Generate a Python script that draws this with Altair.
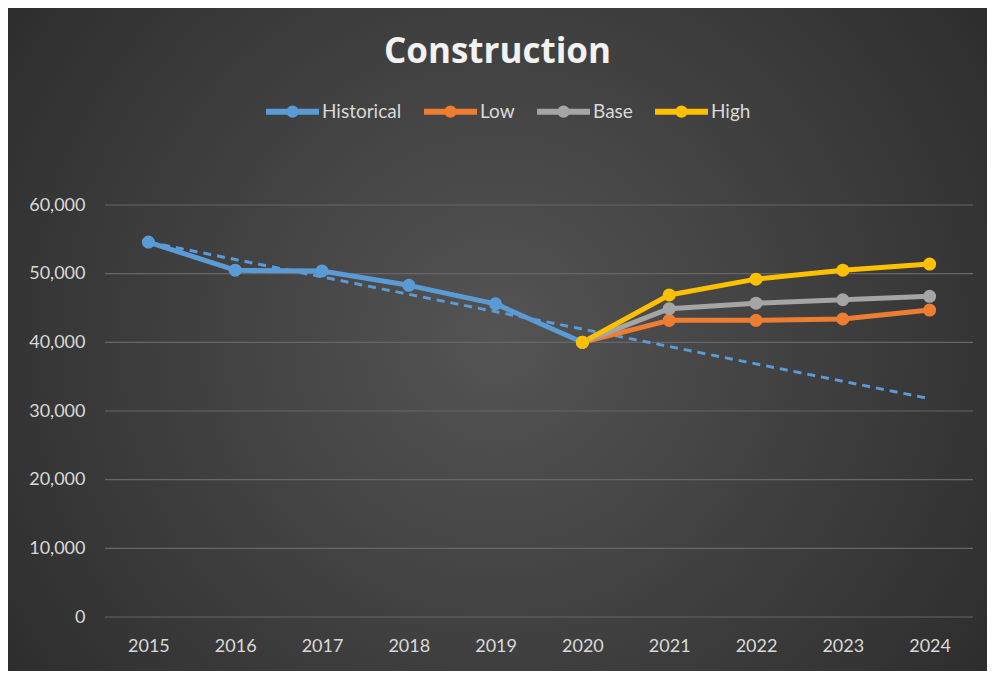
import altair as alt
import pandas as pd

years = ["2015", "2016", "2017", "2018", "2019", "2020", "2021", "2022", "2023", "2024"]
hist_years = ["2015", "2016", "2017", "2018", "2019", "2020"]
historical = [54600, 50500, 50400, 48300, 45600, 40000]
scen_years = ["2020", "2021", "2022", "2023", "2024"]
low = [40000, 43200, 43200, 43400, 44700]
base = [40000, 44900, 45700, 46200, 46700]
high = [40000, 46900, 49200, 50500, 51400]
trend_years = ["2015", "2024"]
trend_vals = [54600, 31800]
y_ticks = [0, 10000, 20000, 30000, 40000, 50000, 60000]

series_names = ["Historical", "Low", "Base", "High"]
series_colors = ["#5b9bd5", "#ed7d31", "#a5a5a5", "#ffc000"]

rows = []
for y, v in zip(hist_years, historical):
    rows.append({"year": y, "value": v, "series": "Historical", "o": 0})
for name, vals, o in [("Low", low, 1), ("Base", base, 2), ("High", high, 3)]:
    for y, v in zip(scen_years, vals):
        rows.append({"year": y, "value": v, "series": name, "o": o})
df = pd.DataFrame(rows)
trend_df = pd.DataFrame({"year": trend_years, "value": trend_vals})
grid_df = pd.DataFrame({"value": y_ticks})

FONT = "Lato"
TXT = "#d9d9d9"

xscale = alt.Scale(type="point", domain=years, padding=0.5)
yscale = alt.Scale(domain=[0, 60000], nice=False)

x_axis = alt.Axis(title=None, labelAngle=0, labelAlign="center",
                  ticks=False, domain=False, grid=False, labelPadding=20, zindex=1,
                  labelFont=FONT, labelFontSize=18, labelColor=TXT)
y_axis = alt.Axis(title=None, values=y_ticks, format=",.0f", ticks=False, domain=False,
                  grid=False, labelPadding=20, zindex=1,
                  labelFont=FONT, labelFontSize=18, labelColor=TXT)

X = alt.X("year:O", scale=xscale, axis=x_axis)
Y = alt.Y("value:Q", scale=yscale, axis=y_axis)

bg = alt.Chart(pd.DataFrame({"a": [1]})).mark_rect(
    fill=alt.Gradient(
        gradient="radial",
        stops=[alt.GradientStop(color="#545454", offset=0),
               alt.GradientStop(color="#262626", offset=1)],
        x1=0.5, y1=0.5, r1=0, x2=0.5, y2=0.5, r2=0.72,
    ),
    clip=False,
).encode(
    x=alt.value(-97), x2=alt.value(882),
    y=alt.value(-197), y2=alt.value(466),
)

grid = alt.Chart(grid_df).mark_rule(color="#676767", strokeWidth=1.2).encode(
    y=Y,
    x=alt.value(0), x2=alt.value(868),
)

trend = alt.Chart(trend_df).mark_line(
    color="#5b9bd5", strokeWidth=3, strokeDash=[8, 6]
).encode(x=X, y=Y)

legend_path = "M-1,0L1,0M-0.12,0A0.12,0.12 0 1,0 0.12,0A0.12,0.12 0 1,0 -0.12,0"

color = alt.Color(
    "series:N",
    scale=alt.Scale(domain=series_names, range=series_colors),
    legend=alt.Legend(
        title=None, orient="none", direction="horizontal",
        legendX=158, legendY=-123,
        symbolType=legend_path, symbolSize=2809, symbolStrokeWidth=6,
        labelFont=FONT, labelFontSize=19, labelColor=TXT,
        labelOffset=0, columnPadding=10,
    ),
)

lines = alt.Chart(df).mark_line(strokeWidth=5, strokeJoin="round").encode(
    x=X, y=Y, color=color,
    order=alt.Order("o:Q"),
    detail="series:N",
)

points = alt.Chart(df).mark_circle(size=170, opacity=1).encode(
    x=X, y=Y, color=color,
    order=alt.Order("o:Q"),
)

chart = alt.layer(bg, grid, trend, lines, points).properties(
    width=868, height=412,
    title=alt.Title("Construction", font="Open Sans", fontSize=35, fontWeight="bold",
                    color="#f2f2f2", anchor="middle", frame="bounds", offset=0,
                    dy=62),
    autosize=alt.AutoSizeParams(type="none"),
    padding={"left": 97, "top": 197, "right": 14, "bottom": 54},
).configure(background="#282828").configure_view(stroke=None)

chart.save("out.html", embed_options={"renderer": "svg", "actions": False})
